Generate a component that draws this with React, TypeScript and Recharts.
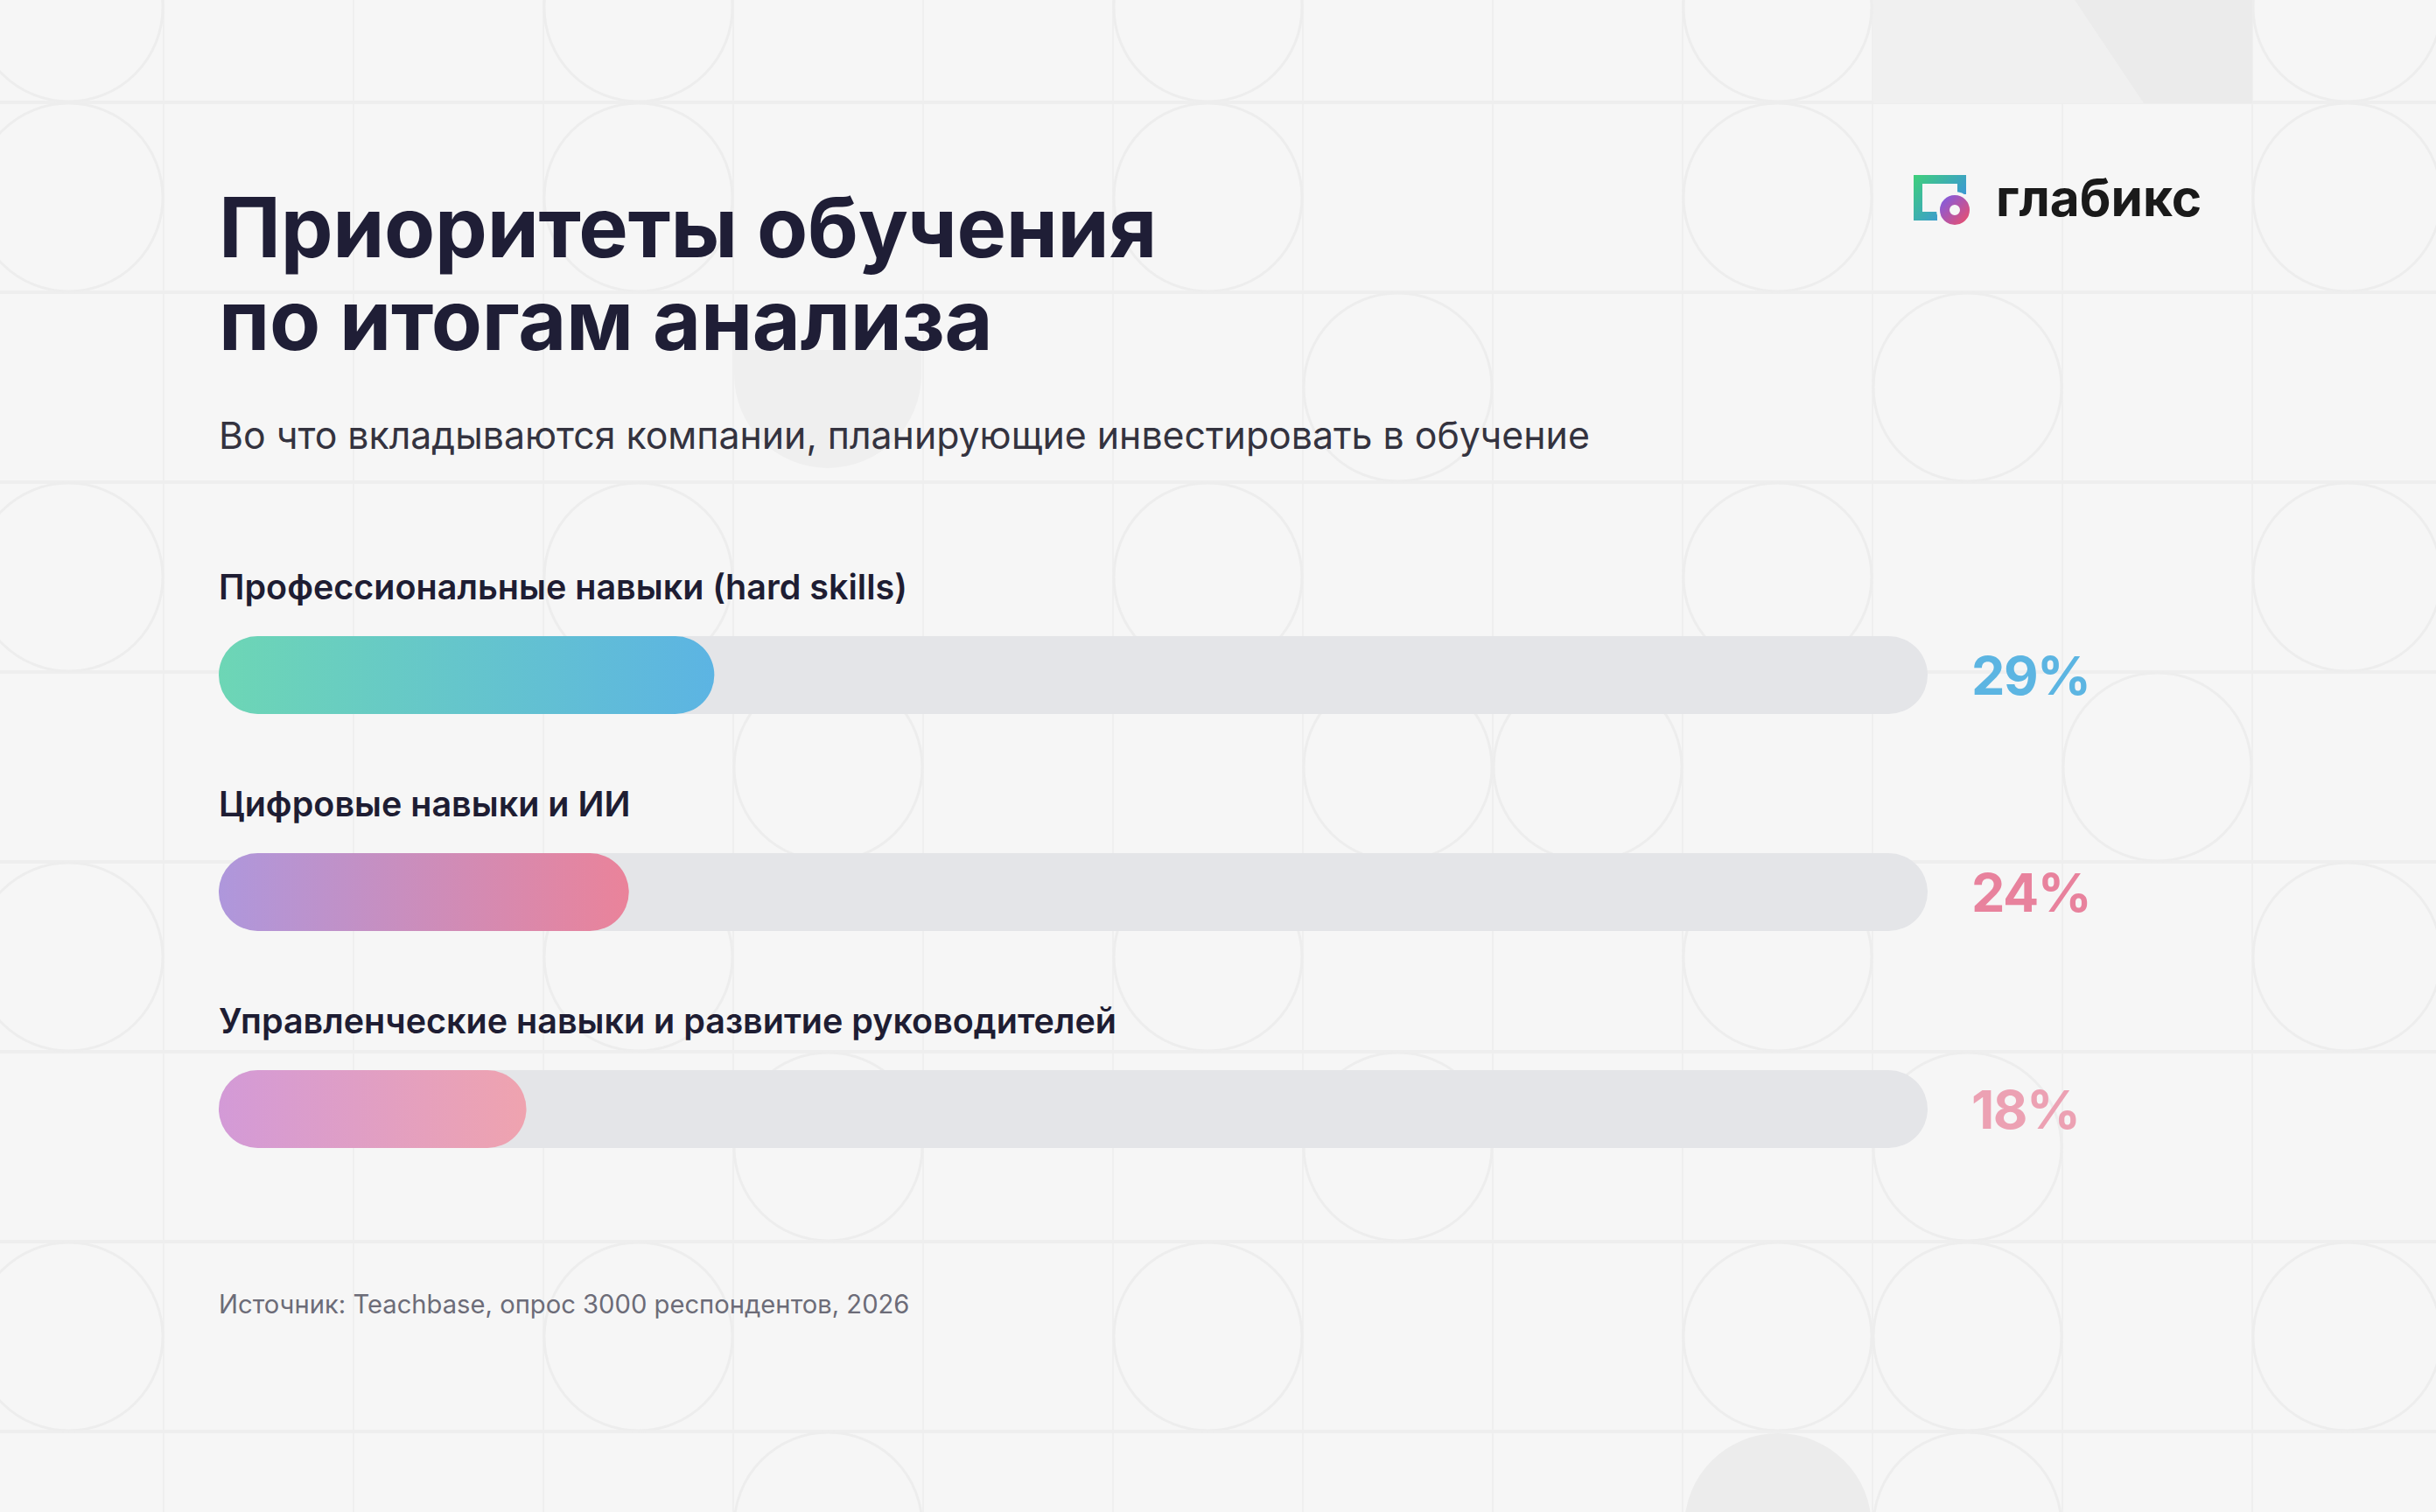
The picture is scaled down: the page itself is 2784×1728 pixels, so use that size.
import React from 'react';
import { BarChart, Bar, XAxis, YAxis, Cell } from 'recharts';

// ---- data ----
const categories = [
  'Профессиональные навыки (hard skills)',
  'Цифровые навыки и ИИ',
  'Управленческие навыки и развитие руководителей',
];
const values = [29, 24, 18];
const valueSuffix = '%';
const titleLines = ['Приоритеты обучения', 'по итогам анализа'];
const subtitle = 'Во что вкладываются компании, планирующие инвестировать в обучение';
const sourceText = 'Источник: Teachbase, опрос 3000 респондентов, 2026';
const brandName = 'глабикс';

// ---- styles ----
const barGradients = [
  ['#6dd6b5', '#5cb4e3'],
  ['#ae97dc', '#ea839a'],
  ['#d39ad7', '#efa3af'],
];
const pctColors = ['#5cb5e2', '#e8829d', '#eca1b3'];
const FONT = 'Inter, "Noto Sans", "DejaVu Sans", sans-serif';
const W = 2784;
const H = 1728;

const data = categories.map((label, i) => ({ label, value: values[i] }));

function Background() {
  const cell = 217;
  const x0 = -30;
  const y0 = -100;
  const els: React.ReactNode[] = [];
  for (let c = 1; c <= 12; c++) {
    const x = x0 + c * cell;
    els.push(<line key={'v' + c} x1={x} x2={x} y1={0} y2={H} stroke="#efefef" strokeWidth={2} />);
  }
  for (let r = 1; r <= 8; r++) {
    const y = y0 + r * cell;
    els.push(<line key={'h' + r} x1={0} x2={W} y1={y} y2={y} stroke="#eeeeee" strokeWidth={4} />);
  }
  const circleRows: Record<number, number[]> = {
    0: [0, 3, 6, 9, 12],
    1: [0, 3, 6, 9, 12],
    2: [7, 10],
    3: [0, 3, 6, 9, 12],
    4: [4, 7, 8, 11],
    5: [0, 3, 6, 9, 12],
    6: [4, 7, 10],
    7: [0, 3, 6, 9, 10, 12],
    8: [4, 10],
  };
  Object.keys(circleRows).forEach((rk) => {
    const r = Number(rk);
    circleRows[r].forEach((c) => {
      els.push(
        <circle
          key={'c' + r + '_' + c}
          cx={x0 + c * cell + cell / 2}
          cy={y0 + r * cell + cell / 2}
          r={cell / 2 - 1}
          fill="none"
          stroke="#ededed"
          strokeWidth={3}
        />
      );
    });
  });
  return (
    <svg width={W} height={H} style={{ position: 'absolute', left: 0, top: 0 }}>
      <defs>
        {barGradients.map((g, i) => (
          <linearGradient key={i} id={'barGrad' + i} x1="0" y1="0" x2="1" y2="0">
            <stop offset="0%" stopColor={g[0]} />
            <stop offset="100%" stopColor={g[1]} />
          </linearGradient>
        ))}
        <linearGradient id="logoSq" gradientUnits="userSpaceOnUse" x1="2187" y1="200" x2="2247" y2="252">
          <stop offset="0%" stopColor="#3fd07a" />
          <stop offset="100%" stopColor="#3b86f2" />
        </linearGradient>
        <linearGradient id="logoRing" gradientUnits="userSpaceOnUse" x1="2217" y1="225" x2="2251" y2="257">
          <stop offset="0%" stopColor="#7b5ce6" />
          <stop offset="100%" stopColor="#f04e66" />
        </linearGradient>
      </defs>
      <rect x={0} y={0} width={W} height={H} fill="#f6f6f6" />
      {els}
      {/* top-right block */}
      <rect x={2141} y={0} width={433} height={118} fill="#f0f0f0" />
      <polygon points="2371,0 2574,0 2574,118 2450,118" fill="#ebebeb" />
      {/* filled decorative shapes */}
      <path d="M 839 400 L 1053 400 L 1053 428 A 107 107 0 0 1 839 428 Z" fill="#efefef" />
      <path d="M 1925 1745 A 107 107 0 0 1 2139 1745 L 2139 1728 L 1925 1728 Z" fill="#ececec" />

      {/* title */}
      <text x={250} y={294} fontFamily={FONT} fontWeight={700} fontSize={95} fill="#1f1e36" letterSpacing={-0.3}>
        {titleLines[0]}
      </text>
      <text x={250} y={400} fontFamily={FONT} fontWeight={700} fontSize={95} fill="#1f1e36" letterSpacing={-0.3}>
        {titleLines[1]}
      </text>
      <text x={250} y={513} fontFamily={FONT} fontWeight={400} fontSize={42.8} fill="#34333f">
        {subtitle}
      </text>
      <text x={250} y={1501} fontFamily={FONT} fontWeight={400} fontSize={29.2} fill="#6c6c78">
        {sourceText}
      </text>

      {/* logo */}
      <polyline
        points="2214,247 2192,247 2192,205 2242,205 2242,222"
        fill="none"
        stroke="url(#logoSq)"
        strokeWidth={10}
        strokeLinejoin="miter"
      />
      <circle cx={2234} cy={240} r={21} fill="#f6f6f6" />
      <circle cx={2234} cy={240} r={11.5} fill="none" stroke="url(#logoRing)" strokeWidth={11} />
      <text x={2281} y={247} fontFamily={FONT} fontWeight={700} fontSize={58.5} fill="#1a1a1a">
        {brandName}
      </text>
    </svg>
  );
}

function CategoryTick(props: any) {
  const { x, y, payload } = props;
  return (
    <text
      x={x}
      y={y - 86}
      textAnchor="start"
      fontFamily={FONT}
      fontWeight={600}
      fontSize={39.5}
      fill="#1e1d33"
    >
      {payload.value}
    </text>
  );
}

function PctTick(props: any) {
  const { x, y, payload, index } = props;
  const i = typeof index === 'number' ? index : payload.index ?? 0;
  return (
    <text
      x={x}
      y={y + 23}
      textAnchor="start"
      fontFamily={FONT}
      fontWeight={700}
      fontSize={61}
      letterSpacing={-1.5}
      fill={pctColors[i % pctColors.length]}
    >
      {payload.value + valueSuffix}
    </text>
  );
}

export default function App() {
  return (
    <div style={{ position: 'absolute', left: 0, top: 0, width: W, height: H, overflow: 'hidden' }}>
      <Background />
      <div style={{ position: 'absolute', left: 0, top: 0 }}>
        <BarChart
          width={W}
          height={H}
          data={data}
          layout="vertical"
          margin={{ top: 647, bottom: 337, left: 249, right: 381 }}
        >
          <XAxis type="number" domain={[0, 100]} hide />
          <YAxis
            yAxisId="left"
            type="category"
            dataKey="label"
            width={1}
            axisLine={false}
            tickLine={false}
            tickSize={0}
            tickMargin={0}
            interval={0}
            tick={<CategoryTick />}
          />
          <YAxis
            yAxisId="right"
            orientation="right"
            type="category"
            dataKey="value"
            width={200}
            axisLine={false}
            tickLine={false}
            tickSize={0}
            tickMargin={50}
            interval={0}
            tick={<PctTick />}
          />
          <Bar
            yAxisId="left"
            dataKey="value"
            barSize={89}
            radius={44.5}
            background={{ fill: '#e4e5e8', radius: 44.5 }}
            isAnimationActive={false}
          >
            {data.map((d, i) => (
              <Cell key={d.label} fill={'url(#barGrad' + i + ')'} />
            ))}
          </Bar>
        </BarChart>
      </div>
    </div>
  );
}
